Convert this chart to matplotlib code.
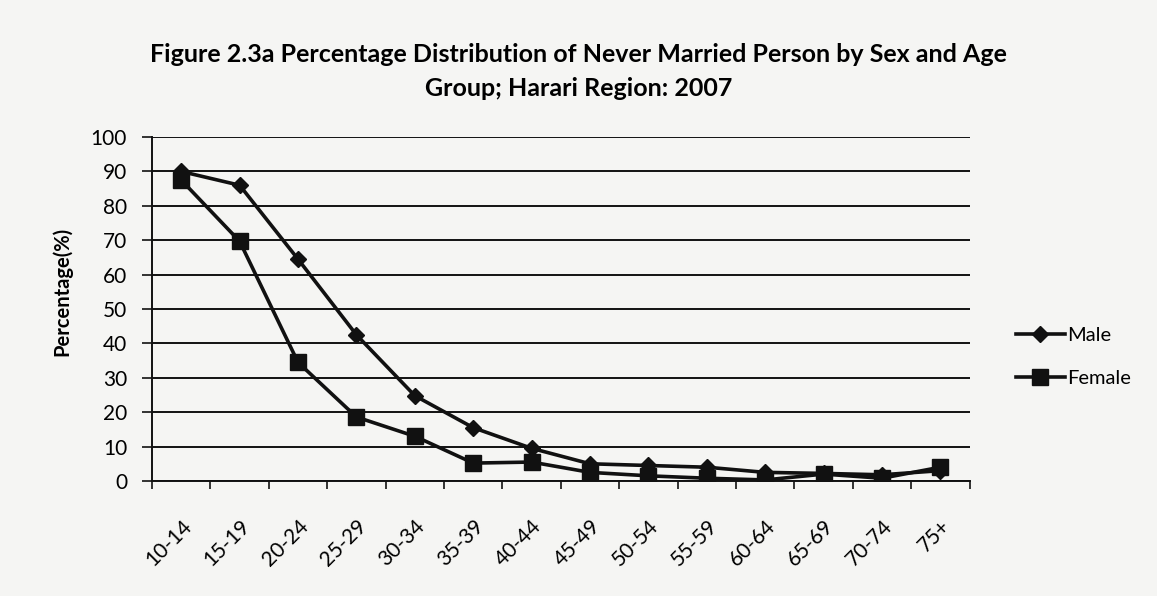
import matplotlib
matplotlib.use("Agg")
import matplotlib.pyplot as plt
import numpy as np

age_groups = ["10-14", "15-19", "20-24", "25-29", "30-34", "35-39", "40-44",
              "45-49", "50-54", "55-59", "60-64", "65-69", "70-74", "75+"]
male = [90, 86, 64.5, 42.5, 24.8, 15.5, 9.5, 5, 4.5, 4, 2.5, 2.2, 1.8, 3]
female = [87.5, 69.7, 34.5, 18.6, 13, 5.2, 5.5, 2.5, 1.5, 0.8, 0.3, 2, 0.8, 4]

plt.rcParams['font.family'] = ['Lato', 'DejaVu Sans']

fig = plt.figure(figsize=(11.57, 5.96), dpi=100)
fig.patch.set_facecolor('#f5f5f3')
ax = fig.add_axes([0.1314, 0.193, 0.7066, 0.577])
ax.set_facecolor('none')

x = np.arange(len(age_groups))
ax.plot(x, male, color='#111111', lw=2.6, marker='D', markersize=8, label='Male')
ax.plot(x, female, color='#111111', lw=2.6, marker='s', markersize=12, label='Female')

ax.set_xlim(-0.5, len(age_groups) - 0.5)
ax.set_ylim(0, 100)
ax.set_yticks(np.arange(0, 101, 10))
ax.yaxis.grid(True, color='#111111', lw=1.4)
ax.set_axisbelow(True)

ax.set_xticks(np.arange(-0.5, len(age_groups), 1), minor=False)
ax.set_xticklabels([])
ax.set_xticks(x, minor=True)
ax.set_xticklabels(age_groups, minor=True, rotation=45, ha='right', rotation_mode='anchor',
                   fontsize=15)
ax.tick_params(axis='x', which='minor', length=0, pad=25)
ax.tick_params(axis='x', which='major', length=6, width=1.2, direction='out', color='#111111')
ax.tick_params(axis='y', labelsize=15, length=7, width=1.2, pad=11, color='#111111')

for s in ['top', 'right']:
    ax.spines[s].set_visible(False)
for s in ['left', 'bottom']:
    ax.spines[s].set_color('#111111')
    ax.spines[s].set_linewidth(1.4)

ax.set_ylabel('Percentage(%)', fontsize=14.5, fontweight='bold')
ax.yaxis.set_label_coords(-0.097, 0.55)

fig.text(0.5, 0.88, 'Figure 2.3a Percentage Distribution of Never Married Person by Sex and Age\nGroup; Harari Region: 2007',
         ha='center', va='center', fontsize=18, fontweight='bold', linespacing=1.55)

leg = ax.legend(loc='center left', bbox_to_anchor=(1.035, 0.36), frameon=False,
                fontsize=14.5, handlelength=2.4, labelspacing=1.3, handletextpad=0.1)

fig.savefig('out.png', dpi=100, facecolor=fig.get_facecolor())
